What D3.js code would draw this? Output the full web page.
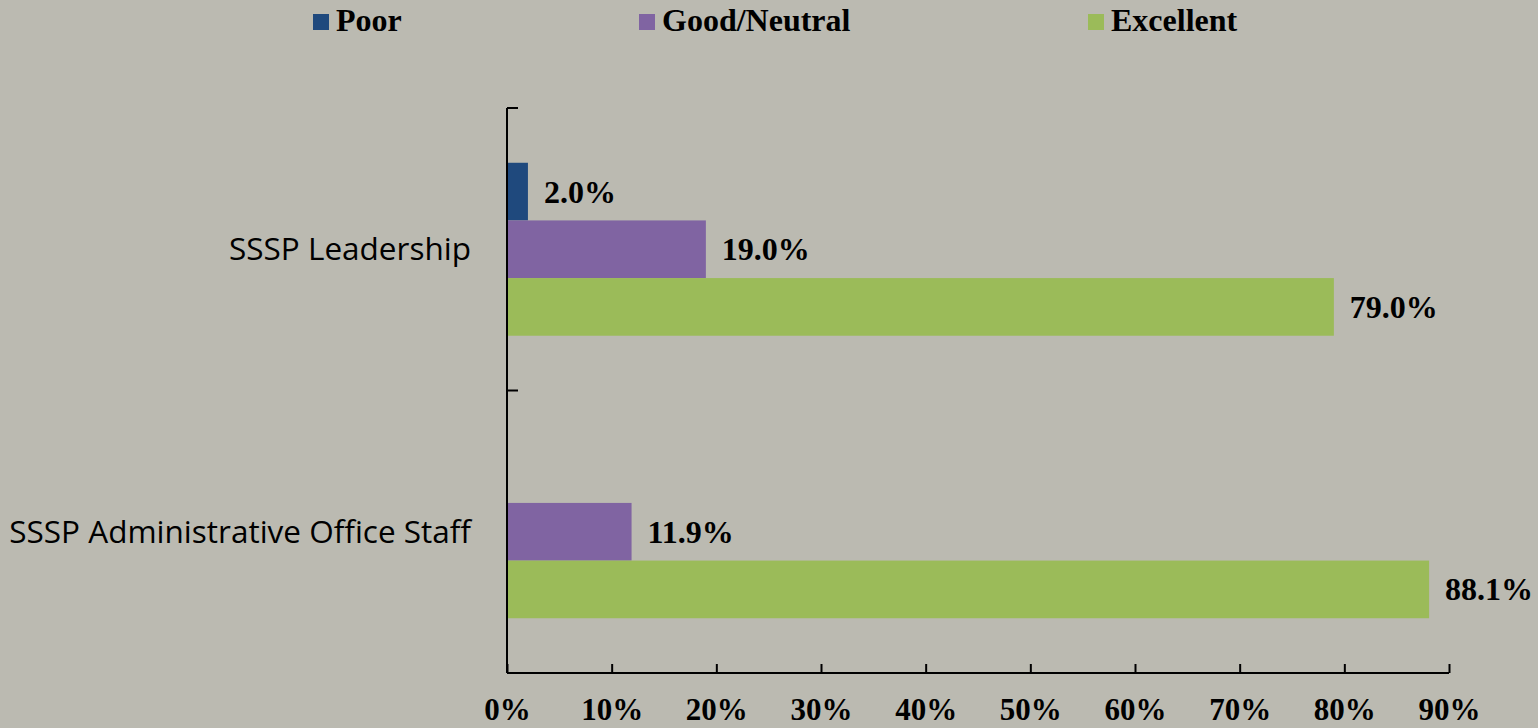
<!DOCTYPE html>
<html>
<head>
<meta charset="utf-8">
<script src="https://cdn.jsdelivr.net/npm/d3@7"></script>
<style>
  html, body { margin: 0; padding: 0; background: #bbbab1; }
  svg { display: block; }
</style>
</head>
<body>
<script>
const categories = ['SSSP Leadership', 'SSSP Administrative Office Staff'];
const seriesNames = ['Poor', 'Good/Neutral', 'Excellent'];
const seriesColors = ['#1f497d', '#8064a2', '#9bbb59'];
const poorValues = [2.0, 0];
const goodValues = [19.0, 11.9];
const excellentValues = [79.0, 88.1];
const xTicks = [0, 10, 20, 30, 40, 50, 60, 70, 80, 90];

const width = 1538;
const height = 728;
const valueFont = '"Liberation Serif", "Times New Roman", serif';

const seriesValues = [poorValues, goodValues, excellentValues];

const svg = d3.select('body')
  .append('svg')
    .attr('width', width)
    .attr('height', height);

const x = d3.scaleLinear().domain([0, 90]).range([507, 1449]);
const y = d3.scaleBand().domain(categories).range([108, 673]);
const yInner = d3.scaleBand().domain(seriesNames)
  .range([0, y.bandwidth()])
  .paddingOuter(0.95)
  .paddingInner(0);

// legend
const legendX = [313, 639, 1088];
const legend = svg.append('g')
  .selectAll('g')
  .data(seriesNames)
  .join('g')
    .attr('transform', (d, i) => `translate(${legendX[i]},0)`);
legend.append('rect')
  .attr('x', 0)
  .attr('y', 14)
  .attr('width', 16)
  .attr('height', 16)
  .attr('fill', (d, i) => seriesColors[i]);
legend.append('text')
  .attr('x', 23)
  .attr('y', 31)
  .attr('font-family', valueFont)
  .attr('font-weight', 'bold')
  .attr('font-size', 32)
  .attr('fill', '#000')
  .text(d => d);

// bars
const rows = [];
categories.forEach((c, ci) => {
  seriesNames.forEach((s, si) => {
    rows.push({ category: c, series: s, index: si, value: seriesValues[si][ci] });
  });
});

const barGroup = svg.append('g');
barGroup.selectAll('rect')
  .data(rows.filter(d => d.value > 0))
  .join('rect')
    .attr('x', x(0))
    .attr('y', d => y(d.category) + yInner(d.series))
    .attr('width', d => x(d.value) - x(0))
    .attr('height', yInner.bandwidth())
    .attr('fill', d => seriesColors[d.index]);

barGroup.selectAll('text')
  .data(rows.filter(d => d.value > 0))
  .join('text')
    .attr('x', d => x(d.value) + 16)
    .attr('y', d => y(d.category) + yInner(d.series) + yInner.bandwidth() / 2 + 11)
    .attr('font-family', valueFont)
    .attr('font-weight', 'bold')
    .attr('font-size', 32)
    .attr('fill', '#000')
    .text(d => d.value.toFixed(1) + '%');

// x axis
const xAxis = svg.append('g')
  .attr('transform', `translate(0,${y.range()[1]})`)
  .call(d3.axisBottom(x).tickValues(xTicks).tickSize(-9).tickFormat(d => d + '%'));
xAxis.select('.domain').attr('stroke', '#000').attr('stroke-width', 2)
  .attr('d', `M${x(0)},0H${x(90)}`);
xAxis.selectAll('.tick line').attr('stroke', '#000').attr('stroke-width', 2);
xAxis.selectAll('.tick text')
  .attr('y', 47)
  .attr('dy', null)
  .attr('font-family', valueFont)
  .attr('font-weight', 'bold')
  .attr('font-size', 31)
  .attr('fill', '#000');

// y axis
const yBoundaries = [y.range()[0], ...categories.slice(1).map(c => y(c)), y.range()[1]];
const yAxis = svg.append('g');
yAxis.append('line')
  .attr('x1', x(0)).attr('x2', x(0))
  .attr('y1', y.range()[0]).attr('y2', y.range()[1])
  .attr('stroke', '#000').attr('stroke-width', 2);
yAxis.selectAll('.ytick')
  .data(yBoundaries)
  .join('line')
    .attr('class', 'ytick')
    .attr('x1', x(0)).attr('x2', x(0) + 11)
    .attr('y1', d => d).attr('y2', d => d)
    .attr('stroke', '#000').attr('stroke-width', 2);

yAxis.selectAll('text')
  .data(categories)
  .join('text')
    .attr('x', 471)
    .attr('y', d => y(d) + y.bandwidth() / 2 + 11)
    .attr('text-anchor', 'end')
    .attr('font-family', '"Open Sans", sans-serif')
    .attr('font-size', 31.5)
    .attr('fill', '#000')
    .text(d => d);
</script>
</body>
</html>
